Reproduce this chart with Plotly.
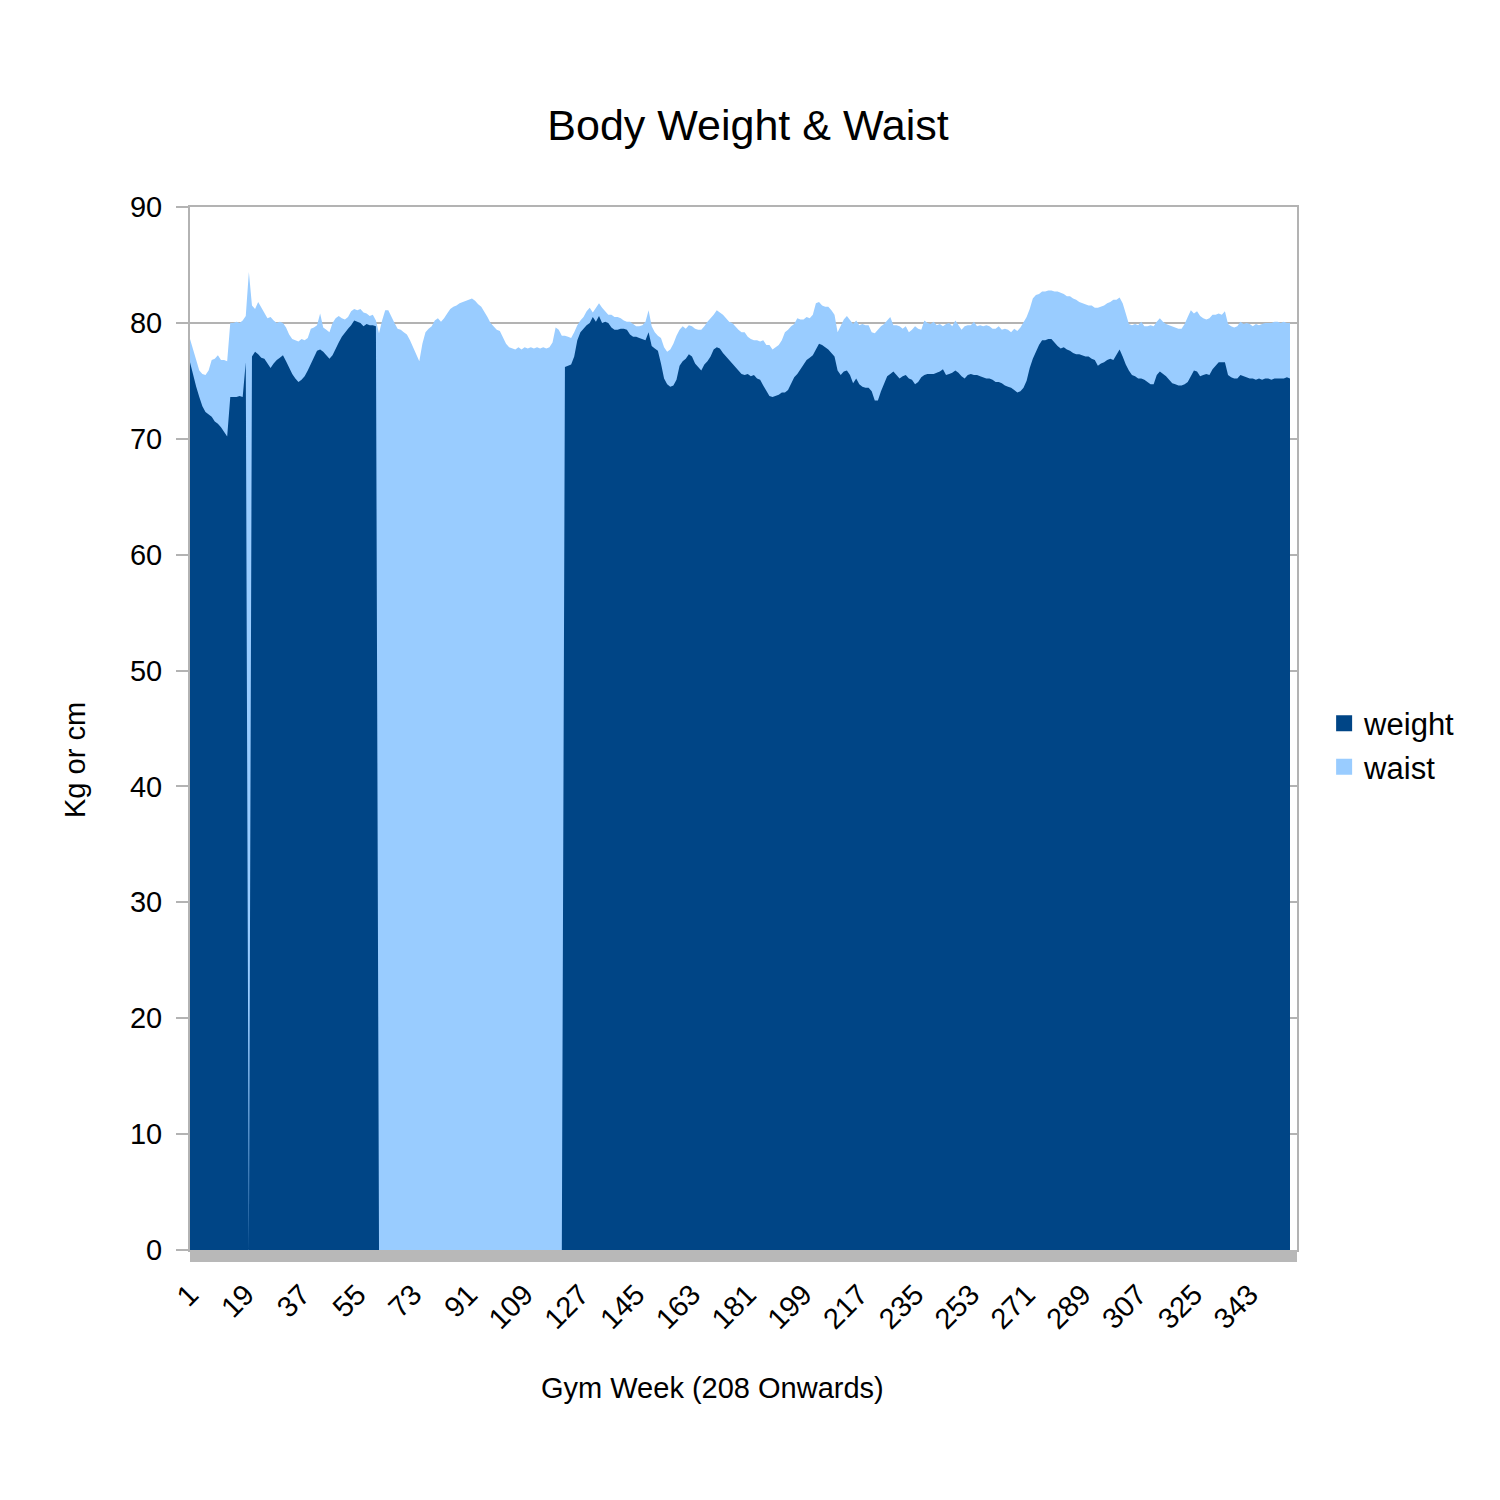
import plotly.graph_objects as go

# Gym weeks (categories 1..356)
weeks = list(range(1, 357))

tick_weeks = [1, 19, 37, 55, 73, 91, 109, 127, 145, 163, 181, 199, 217, 235, 253, 271, 289, 307, 325, 343]
tick_labels = ["1", "19", "37", "55", "73", "91", "109", "127", "145", "163", "181", "199",
               "217", "235", "253", "271", "289", "307", "325", "343"]

weight = [
    # 1-20
    76.6, 75.5, 74.5, 73.6, 72.8, 72.3, 72.1, 71.9, 71.5, 71.3, 71.0, 70.6, 70.2, 73.6, 73.6, 73.6, 73.7, 73.6, 76.6, 0.0,
    # 21-61
    77.1, 77.5, 77.3, 77.0, 76.9, 76.5, 76.1, 76.5, 76.8, 77.0, 77.2, 76.7, 76.1, 75.6, 75.2, 74.9, 75.1, 75.4, 75.9, 76.5,
    77.0, 77.6, 77.7, 77.5, 77.2, 76.9, 77.2, 77.8, 78.3, 78.8, 79.2, 79.5, 79.8, 80.2, 80.1, 80.0, 79.7, 79.9, 79.8, 79.8,
    79.7,
    # 62-121 (no weight recorded)
    0.0, 0.0, 0.0, 0.0, 0.0, 0.0, 0.0, 0.0, 0.0, 0.0, 0.0, 0.0, 0.0, 0.0, 0.0, 0.0, 0.0, 0.0, 0.0, 0.0,
    0.0, 0.0, 0.0, 0.0, 0.0, 0.0, 0.0, 0.0, 0.0, 0.0, 0.0, 0.0, 0.0, 0.0, 0.0, 0.0, 0.0, 0.0, 0.0, 0.0,
    0.0, 0.0, 0.0, 0.0, 0.0, 0.0, 0.0, 0.0, 0.0, 0.0, 0.0, 0.0, 0.0, 0.0, 0.0, 0.0, 0.0, 0.0, 0.0, 0.0,
    # 122-180
    76.2, 76.3, 76.4, 77.1, 78.5, 79.2, 79.5, 79.8, 80.0, 80.5, 80.1, 80.6, 80.0, 80.1, 80.0, 79.6, 79.4, 79.4, 79.5, 79.5,
    79.4, 79.0, 78.8, 78.8, 78.7, 78.6, 78.5, 79.2, 78.0, 77.8, 77.6, 76.5, 75.2, 74.7, 74.5, 74.6, 75.1, 76.3, 76.7, 76.9,
    77.3, 77.1, 76.5, 76.2, 75.9, 76.4, 76.7, 77.1, 77.7, 77.9, 77.8, 77.4, 77.1, 76.8, 76.5, 76.2, 75.9, 75.6, 75.5,
    # 181-240
    75.6, 75.4, 75.5, 75.2, 75.1, 74.6, 74.1, 73.7, 73.6, 73.7, 73.8, 74.0, 74.0, 74.2, 74.8, 75.3, 75.6, 76.0, 76.4, 76.8,
    77.0, 77.2, 77.7, 78.2, 78.1, 77.9, 77.7, 77.4, 77.1, 75.9, 75.5, 75.8, 75.9, 75.5, 74.8, 75.2, 74.7, 74.5, 74.4, 74.4,
    74.1, 73.3, 73.3, 74.1, 74.8, 75.4, 75.6, 75.8, 75.5, 75.2, 75.4, 75.5, 75.2, 75.1, 74.7, 74.9, 75.3, 75.5, 75.6, 75.6,
    # 241-299
    75.6, 75.7, 75.8, 76.0, 75.5, 75.6, 75.7, 75.9, 75.7, 75.4, 75.2, 75.5, 75.6, 75.5, 75.5, 75.4, 75.3, 75.2, 75.2, 75.1,
    74.9, 74.9, 74.8, 74.6, 74.5, 74.4, 74.2, 74.0, 74.1, 74.4, 75.0, 76.1, 76.9, 77.5, 78.1, 78.5, 78.5, 78.6, 78.6, 78.3,
    78.0, 77.8, 77.9, 77.7, 77.6, 77.4, 77.3, 77.3, 77.2, 77.1, 77.1, 76.9, 76.8, 76.3, 76.5, 76.6, 76.8, 76.9, 76.8,
    # 300-356
    77.2, 77.7, 77.1, 76.4, 75.9, 75.5, 75.4, 75.2, 75.2, 75.1, 74.9, 74.7, 74.7, 75.5, 75.8, 75.6, 75.4, 75.1, 74.8, 74.7,
    74.6, 74.6, 74.7, 74.9, 75.4, 75.9, 75.8, 75.4, 75.5, 75.6, 75.5, 76.0, 76.3, 76.6, 76.6, 76.6, 75.5, 75.3, 75.2, 75.2,
    75.5, 75.4, 75.3, 75.2, 75.2, 75.1, 75.2, 75.1, 75.2, 75.2, 75.1, 75.2, 75.2, 75.2, 75.2, 75.3, 75.2,
]

waist = [
    # 1-20
    78.6, 77.7, 76.7, 75.9, 75.6, 75.5, 75.9, 76.8, 76.9, 77.2, 76.8, 76.8, 76.7, 80.0, 80.0, 80.1, 80.0, 80.2, 80.6, 84.4,
    # 21-61
    81.5, 81.2, 81.8, 81.3, 80.8, 80.4, 80.5, 80.2, 80.0, 80.1, 80.0, 79.6, 79.0, 78.6, 78.5, 78.4, 78.6, 78.5, 78.7, 79.5,
    79.6, 79.8, 80.8, 79.6, 79.4, 79.2, 80.0, 80.4, 80.6, 80.4, 80.3, 80.5, 81.0, 81.2, 81.1, 81.2, 80.9, 80.8, 80.6, 80.7,
    80.2,
    # 62-118
    79.1, 80.2, 81.1, 81.1, 80.5, 80.0, 79.5, 79.4, 79.2, 79.0, 78.5, 77.9, 77.4, 76.7, 78.2, 79.2, 79.5, 79.7, 80.2, 80.4,
    80.1, 80.4, 80.8, 81.2, 81.4, 81.5, 81.7, 81.8, 81.9, 82.0, 82.1, 81.9, 81.6, 81.4, 81.0, 80.5, 80.0, 79.7, 79.4, 79.3,
    78.7, 78.2, 77.9, 77.8, 77.7, 77.9, 77.7, 77.9, 77.8, 77.9, 77.8, 77.9, 77.8, 77.9, 77.8, 77.9, 78.3,
    # 119-121
    79.6, 79.4, 78.9,
    # 122-180
    78.9, 78.8, 78.7, 79.2, 79.8, 80.2, 80.5, 81.0, 81.3, 80.9, 81.3, 81.7, 81.3, 81.0, 80.7, 80.7, 80.5, 80.5, 80.4, 80.2,
    80.1, 80.1, 79.9, 79.7, 79.7, 79.8, 80.1, 81.1, 79.7, 79.2, 78.9, 78.7, 77.9, 77.5, 77.7, 78.2, 78.9, 79.4, 79.7, 79.5,
    79.8, 79.7, 79.5, 79.4, 79.4, 79.7, 80.1, 80.4, 80.7, 81.1, 80.9, 80.7, 80.4, 80.1, 80.0, 79.7, 79.4, 79.2, 79.2,
    # 181-240
    78.8, 78.6, 78.5, 78.5, 78.4, 78.5, 78.1, 78.1, 77.7, 77.9, 78.1, 78.5, 79.2, 79.4, 79.7, 79.9, 80.4, 80.3, 80.3, 80.5,
    80.4, 80.7, 81.7, 81.8, 81.5, 81.4, 81.4, 81.1, 80.7, 79.2, 79.8, 80.3, 80.6, 80.2, 79.9, 80.2, 79.8, 79.9, 79.8, 79.8,
    79.2, 79.1, 79.4, 79.7, 79.9, 80.2, 80.5, 79.8, 79.8, 79.7, 79.5, 79.7, 79.2, 79.4, 79.7, 79.5, 79.4, 80.2, 80.0, 79.9,
    # 241-299
    80.1, 79.8, 79.9, 79.7, 79.9, 80.0, 79.7, 80.2, 79.8, 79.4, 79.7, 79.8, 79.8, 80.1, 79.7, 79.8, 79.7, 79.8, 79.7, 79.5,
    79.5, 79.7, 79.4, 79.5, 79.4, 79.2, 79.5, 79.3, 79.6, 80.1, 80.5, 81.2, 82.1, 82.4, 82.5, 82.7, 82.7, 82.8, 82.8, 82.7,
    82.7, 82.6, 82.5, 82.3, 82.3, 82.1, 82.0, 81.8, 81.7, 81.6, 81.5, 81.5, 81.3, 81.3, 81.4, 81.5, 81.7, 81.8, 82.0,
    # 300-356
    82.0, 82.2, 81.7, 80.8, 79.9, 79.8, 79.9, 79.8, 80.1, 79.7, 79.7, 79.8, 79.7, 80.1, 80.4, 80.1, 79.9, 79.8, 79.7, 79.6,
    79.5, 79.5, 79.9, 80.5, 81.1, 80.8, 81.0, 80.6, 80.4, 80.3, 80.4, 80.7, 80.7, 80.8, 80.7, 81.0, 79.9, 79.7, 79.6, 79.7,
    80.1, 79.9, 80.0, 79.9, 79.7, 79.9, 79.8, 79.9, 80.0, 80.0, 80.0, 80.1, 80.1, 80.0, 80.1, 80.0, 80.0,
]

WEIGHT_COLOR = "#004586"
WAIST_COLOR = "#99ccff"
GRID = "#b3b3b3"
FONT = "Liberation Sans"

fig = go.Figure()

# waist behind, weight in front
fig.add_trace(go.Scatter(x=weeks, y=waist, mode="lines", fill="tozeroy",
                         line=dict(width=0, color=WAIST_COLOR), fillcolor=WAIST_COLOR,
                         showlegend=False, hoverinfo="skip"))
fig.add_trace(go.Scatter(x=weeks, y=weight, mode="lines", fill="tozeroy",
                         line=dict(width=0, color=WEIGHT_COLOR), fillcolor=WEIGHT_COLOR,
                         showlegend=False, hoverinfo="skip"))

# legend entries (square swatches)
fig.add_trace(go.Scatter(x=[None], y=[None], mode="markers", name="weight",
                         marker=dict(symbol="square", size=18, color=WEIGHT_COLOR)))
fig.add_trace(go.Scatter(x=[None], y=[None], mode="markers", name="waist",
                         marker=dict(symbol="square", size=18, color=WAIST_COLOR)))

fig.update_layout(
    width=1500, height=1500,
    margin=dict(l=190, r=203, t=207, b=250),
    paper_bgcolor="white", plot_bgcolor="white",
    font=dict(family=FONT, color="black"),
    title=dict(text="Body Weight & Waist", x=0.4987, xanchor="center",
               y=1 - 125 / 1500, yanchor="middle",
               font=dict(size=43, family=FONT, color="black")),
    legend=dict(x=1.0245, xanchor="left", y=0.484, yanchor="middle",
                font=dict(size=31, family=FONT, color="black"),
                bgcolor="rgba(0,0,0,0)", itemwidth=30, tracegroupgap=0),
    showlegend=True,
)

fig.update_xaxes(range=[1, 358.26], tickmode="array", tickvals=tick_weeks, ticktext=tick_labels,
                 tickangle=-45, ticks="", showgrid=False, zeroline=False,
                 showline=True, linecolor=GRID, linewidth=2, mirror=True,
                 tickfont=dict(size=29, family=FONT, color="black"),
                 ticklabelstandoff=14)

fig.update_yaxes(range=[0, 90], dtick=10, tick0=0, showgrid=True, gridcolor=GRID, gridwidth=1.5,
                 zeroline=False, ticks="outside", ticklen=12, tickcolor=GRID, tickwidth=2,
                 showline=True, linecolor=GRID, linewidth=2, mirror=True,
                 tickfont=dict(size=29, family=FONT, color="black"),
                 ticklabelstandoff=8)

# floor band under the plot area
fig.add_shape(type="rect", xref="paper", yref="paper", x0=0, x1=1, y0=-12 / 1043, y1=0,
              fillcolor="#b8b8b8", line=dict(width=0), layer="above")

# axis titles
fig.add_annotation(text="Kg or cm", xref="paper", yref="paper", x=-0.1039, y=0.4698,
                   textangle=-90, showarrow=False, xanchor="center", yanchor="middle",
                   font=dict(size=29, family=FONT, color="black"))
fig.add_annotation(text="Gym Week (208 Onwards)", xref="paper", yref="paper", x=0.4724, y=-0.1323,
                   showarrow=False, xanchor="center", yanchor="middle",
                   font=dict(size=29, family=FONT, color="black"))

fig.write_html("out.html")
